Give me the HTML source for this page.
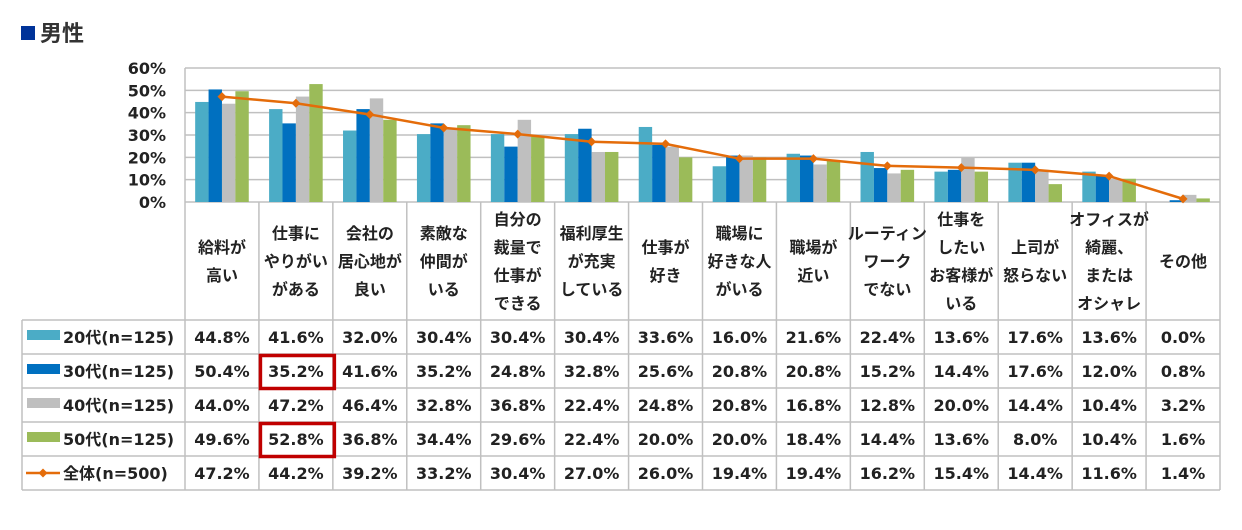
<!DOCTYPE html>
<html><head><meta charset="utf-8">
<style>
html,body{margin:0;padding:0;background:#fff;}
svg{display:block;font-family:"DejaVu Sans","Noto Sans CJK JP",sans-serif;font-weight:bold;}
</style></head>
<body>
<svg id="chart" width="1242" height="530" viewBox="0 0 1242 530" xmlns="http://www.w3.org/2000/svg">
<rect x="21" y="26" width="14" height="14" fill="#003399"/>
<text x="40" y="41" font-size="22" fill="#333" font-family="Noto Sans CJK JP, sans-serif">男性</text>
<g id="grid"></g><g id="bars"></g><g id="line"></g><g id="table"></g>
</svg>
<script>
const categories=[["給料が","高い"],["仕事に","やりがい","がある"],["会社の","居心地が","良い"],["素敵な","仲間が","いる"],["自分の","裁量で","仕事が","できる"],["福利厚生","が充実","している"],["仕事が","好き"],["職場に","好きな人","がいる"],["職場が","近い"],["ルーティン","ワーク","でない"],["仕事を","したい","お客様が","いる"],["上司が","怒らない"],["オフィスが","綺麗、","または","オシャレ"],["その他"]];
const seriesNames=["20代(n=125)","30代(n=125)","40代(n=125)","50代(n=125)","全体(n=500)"];
const s20=[44.8,41.6,32.0,30.4,30.4,30.4,33.6,16.0,21.6,22.4,13.6,17.6,13.6,0.0];
const s30=[50.4,35.2,41.6,35.2,24.8,32.8,25.6,20.8,20.8,15.2,14.4,17.6,12.0,0.8];
const s40=[44.0,47.2,46.4,32.8,36.8,22.4,24.8,20.8,16.8,12.8,20.0,14.4,10.4,3.2];
const s50=[49.6,52.8,36.8,34.4,29.6,22.4,20.0,20.0,18.4,14.4,13.6,8.0,10.4,1.6];
const sAll=[47.2,44.2,39.2,33.2,30.4,27.0,26.0,19.4,19.4,16.2,15.4,14.4,11.6,1.4];
const yTicks=[0,10,20,30,40,50,60];
const highlights=[[1,1],[1,3]];

const NS="http://www.w3.org/2000/svg";
const L=185,R=1220,T=68,B=202,n=categories.length,cw=(R-L)/n;
const y=v=>B-(v/60)*(B-T);
const xc=i=>L+cw*(i+0.5);
const colors=["#4bacc6","#0070c0","#bfbfbf","#9bbb59"];
function mk(tag,attrs,parent){const e=document.createElementNS(NS,tag);for(const k in attrs)e.setAttribute(k,attrs[k]);parent.appendChild(e);return e;}
const grid=document.getElementById('grid'),bars=document.getElementById('bars'),line=document.getElementById('line'),table=document.getElementById('table');
yTicks.forEach(t=>{
 const g=mk('line',{x1:L,x2:R,y1:y(t),y2:y(t),stroke:'#c0c0c0','stroke-width':1.5},grid);
 
 
 const tx=mk('text',{x:166,y:y(t)+6,'font-size':16,'text-anchor':'end',fill:'#222'},grid);
 tx.textContent=t+'%';
 
 
});
mk('line',{x1:L,x2:L,y1:T,y2:B,stroke:'#c0c0c0','stroke-width':1.5},grid);
mk('line',{x1:R,x2:R,y1:T,y2:B,stroke:'#c0c0c0','stroke-width':1.5},grid);
const series=[s20,s30,s40,s50];const bw=13.4;
series.forEach((s,si)=>{s.forEach((v,i)=>{
 const r=mk('rect',{x:xc(i)-2*bw+si*bw,y:y(v),width:bw,height:B-y(v),fill:colors[si]},bars);
 
 
});});
const pl=mk('polyline',{points:sAll.map((v,i)=>xc(i)+','+y(v)).join(' '),fill:'none',stroke:'#e46c0a','stroke-width':2.5},line);


sAll.forEach((v,i)=>{
 const d=mk('path',{d:`M${xc(i)-4.5},${y(v)} L${xc(i)},${y(v)-4.5} L${xc(i)+4.5},${y(v)} L${xc(i)},${y(v)+4.5}Z`,fill:'#e46c0a'},line);
 
 
});
const TL=22,HT=B,RT=320,rh=34,TB=RT+rh*5;
const st={stroke:'#c0c0c0','stroke-width':1.5};
for(let i=0;i<=n;i++)mk('line',Object.assign({x1:L+cw*i,x2:L+cw*i,y1:HT,y2:TB},st),table);
mk('line',Object.assign({x1:TL,x2:TL,y1:RT,y2:TB},st),table);
for(let r=0;r<=5;r++)mk('line',Object.assign({x1:TL,x2:R,y1:RT+rh*r,y2:RT+rh*r},st),table);
categories.forEach((c,i)=>{
 const lh=28,cy=(HT+RT)/2,start=cy-(c.length-1)*lh/2;
 c.forEach((ln,k)=>{
  const t=mk('text',{x:xc(i),y:start+k*lh+6,'font-size':16,'text-anchor':'middle',fill:'#222','font-family':'Noto Sans CJK JP, sans-serif'},table);
  t.textContent=ln;
  
  
 });
});
const all=[s20,s30,s40,s50,sAll];
all.forEach((s,r)=>{
 const cy=RT+rh*r+rh/2;
 if(r<4){const k=mk('rect',{x:27,y:cy-7,width:33,height:10,fill:colors[r]},table);
  
  }
 else{mk('line',{x1:26,x2:60,y1:cy,y2:cy,stroke:'#e46c0a','stroke-width':2.5},table);
  mk('path',{d:`M${43-4.5},${cy} L43,${cy-4.5} L${43+4.5},${cy} L43,${cy+4.5}Z`,fill:'#e46c0a'},table);}
 const lt=mk('text',{x:63,y:cy+6,'font-size':16,fill:'#222'},table);
 lt.textContent=seriesNames[r];
 
 
 s.forEach((v,i)=>{
  const t=mk('text',{x:xc(i),y:cy+6,'font-size':16,'text-anchor':'middle',fill:'#222'},table);
  t.textContent=v.toFixed(1)+'%';
  
  
 });
});
highlights.forEach(([c,r])=>{
 const h=mk('rect',{x:L+cw*c+1.5,y:RT+rh*r+1.5,width:cw,height:rh-1,fill:'none',stroke:'#c00000','stroke-width':3.5},table);
 
 
});
</script>
</body></html>
